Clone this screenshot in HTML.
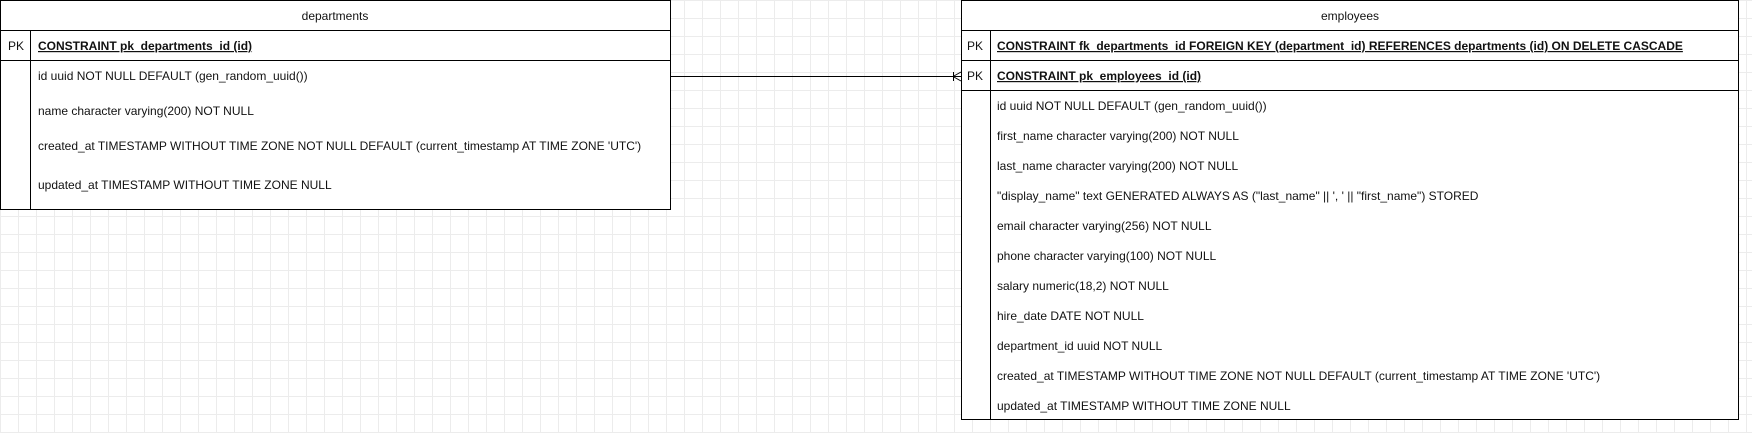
<!DOCTYPE html>
<html><head><meta charset="utf-8"><style>
html,body{margin:0;padding:0}
body{width:1752px;height:433px;overflow:hidden;background:#fff;
background-image:linear-gradient(#ececec 1px,transparent 1px),linear-gradient(90deg,#ececec 1px,transparent 1px);background-size:18px 18px;}
svg{position:absolute;left:0;top:0}
text{font-family:"Liberation Sans",sans-serif;font-size:12px;fill:#111}
</style></head><body>
<svg width="1752" height="433" xmlns="http://www.w3.org/2000/svg">
<!-- departments -->
<rect x="0.5" y="0.5" width="670" height="209" fill="#fff" stroke="#000"/>
<line x1="0" y1="30.5" x2="670" y2="30.5" stroke="#000"/>
<line x1="0" y1="60.5" x2="670" y2="60.5" stroke="#000"/>
<line x1="30.5" y1="30" x2="30.5" y2="210" stroke="#000"/>
<text x="335" y="20" text-anchor="middle">departments</text>
<text x="8" y="50">PK</text>
<text x="38" y="50" text-decoration="underline" font-weight="bold">CONSTRAINT pk_departments_id (id)</text>
<text x="38" y="80">id uuid NOT NULL DEFAULT (gen_random_uuid())</text>
<text x="38" y="115">name character varying(200) NOT NULL</text>
<text x="38" y="150">created_at TIMESTAMP WITHOUT TIME ZONE NOT NULL DEFAULT (current_timestamp AT TIME ZONE 'UTC')</text>
<text x="38" y="189">updated_at TIMESTAMP WITHOUT TIME ZONE NULL</text>
<!-- connector -->
<line x1="670" y1="76.5" x2="961" y2="76.5" stroke="#000"/>
<line x1="953" y1="76.5" x2="961" y2="72" stroke="#000"/>
<line x1="953" y1="76.5" x2="961" y2="81" stroke="#000"/>
<line x1="953.5" y1="72" x2="953.5" y2="81" stroke="#000"/>
<!-- employees -->
<rect x="961.5" y="0.5" width="777" height="419" fill="#fff" stroke="#000"/>
<line x1="961" y1="30.5" x2="1739" y2="30.5" stroke="#000"/>
<line x1="961" y1="60.5" x2="1739" y2="60.5" stroke="#000"/>
<line x1="961" y1="90.5" x2="1739" y2="90.5" stroke="#000"/>
<line x1="990.5" y1="30" x2="990.5" y2="420" stroke="#000"/>
<text x="1350" y="20" text-anchor="middle">employees</text>
<text x="967" y="50">PK</text>
<text x="997" y="50" text-decoration="underline" font-weight="bold">CONSTRAINT fk_departments_id FOREIGN KEY (department_id) REFERENCES departments (id) ON DELETE CASCADE</text>
<text x="967" y="80">PK</text>
<text x="997" y="80" text-decoration="underline" font-weight="bold">CONSTRAINT pk_employees_id (id)</text>
<text x="997" y="110">id uuid NOT NULL DEFAULT (gen_random_uuid())</text>
<text x="997" y="140">first_name character varying(200) NOT NULL</text>
<text x="997" y="170">last_name character varying(200) NOT NULL</text>
<text x="997" y="200">"display_name" text GENERATED ALWAYS AS ("last_name" || ', ' || "first_name") STORED</text>
<text x="997" y="230">email character varying(256) NOT NULL</text>
<text x="997" y="260">phone character varying(100) NOT NULL</text>
<text x="997" y="290">salary numeric(18,2) NOT NULL</text>
<text x="997" y="320">hire_date DATE NOT NULL</text>
<text x="997" y="350">department_id uuid NOT NULL</text>
<text x="997" y="380">created_at TIMESTAMP WITHOUT TIME ZONE NOT NULL DEFAULT (current_timestamp AT TIME ZONE 'UTC')</text>
<text x="997" y="410">updated_at TIMESTAMP WITHOUT TIME ZONE NULL</text>
</svg>
</body></html>
